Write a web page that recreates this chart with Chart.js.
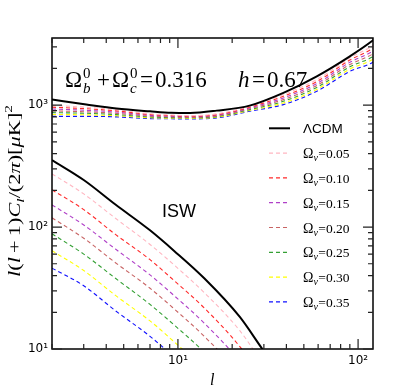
<!DOCTYPE html>
<html><head><meta charset="utf-8">
<script src="https://cdn.jsdelivr.net/npm/chart.js@4.4.0/dist/chart.umd.min.js"></script>
<style>html,body{margin:0;padding:0;background:#fff;}#wrap{width:415px;height:388px;}</style>
</head><body><div id="wrap"><canvas id="c" width="415" height="388"></canvas></div>
<script>
// ---- data ----
const seriesLabels = ['ΛCDM', '0.05', '0.10', '0.15', '0.20', '0.25', '0.30', '0.35'];
const seriesColors = ['#000000', '#ffb6c1', '#ff2a2a', '#b040c8', '#c86464', '#34a034', '#ffff00', '#1010ff'];

// total spectrum
const lTotal = [2, 3.1, 4.56, 7, 9.2, 11.7, 16.4, 25, 38.5, 59, 90, 119, 125];
const totLCDM = [1110, 1010, 936, 889, 866, 863, 901, 990, 1259, 1722, 2512, 3336, 3550];
const tot005 = [996, 959, 918, 850, 830, 820, 847, 978, 1219, 1618, 2440, 3030, 3200];
const tot010 = [962, 933, 897, 837, 820, 811, 836, 963, 1181, 1559, 2339, 2878, 3030];
const tot015 = [929, 906, 877, 824, 810, 803, 826, 948, 1145, 1502, 2242, 2732, 2880];
const tot020 = [897, 881, 856, 811, 800, 795, 815, 933, 1109, 1448, 2149, 2595, 2730];
const tot025 = [867, 857, 836, 799, 790, 787, 805, 918, 1074, 1395, 2059, 2464, 2590];
const tot030 = [838, 832, 818, 787, 781, 779, 795, 903, 1041, 1345, 1973, 2340, 2460];
const tot035 = [809, 809, 800, 775, 772, 771, 785, 889, 1009, 1298, 1890, 2217, 2330];

// ISW contribution
const lISW = [2, 3, 4.5, 7, 9.5, 14, 22, 30, 40];
const iswLCDM = [354, 243, 153, 94, 64, 38, 18.4, 9.6, 5.5];
const isw005 = [273, 187, 118, 72, 49, 29, 14.2, 7.4, 4.2];
const isw010 = [202, 139, 87, 54, 36.5, 21.7, 10.5, 5.5, 3.1];
const isw015 = [152, 104, 66, 40.5, 27.5, 16.3, 7.9, 4.1, 2.4];
const isw020 = [119, 81, 51, 31.5, 21.4, 12.7, 6.2, 3.2, 1.8];
const isw025 = [88, 60, 38, 23.2, 15.8, 9.4, 4.5, 2.4, 1.4];
const isw030 = [64, 44, 27.5, 17, 11.5, 6.8, 3.3, 1.7, 1.0];
const isw035 = [46, 33, 20.6, 12.7, 8.6, 5.1, 2.5, 1.3, 0.8];

const xTickValues = [10, 100];
const xTickLabels = ['10¹', '10²'];
const yTickValues = [10, 100, 1000];
const yTickLabels = ['10¹', '10²', '10³'];
const xRange = [2, 121];
const yRange = [10, 3550];

const totalSeries = [totLCDM, tot005, tot010, tot015, tot020, tot025, tot030, tot035];
const iswSeries = [iswLCDM, isw005, isw010, isw015, isw020, isw025, isw030, isw035];

function pts(xs, ys) { return xs.map((x, i) => ({ x: x, y: ys[i] })); }

const datasets = [];
[iswSeries, totalSeries].forEach((group, g) => {
  const xs = g === 0 ? lISW : lTotal;
  group.forEach((ys, i) => {
    datasets.push({
      label: seriesLabels[i] + (g === 0 ? ' ISW' : ' total'),
      data: pts(xs, ys),
      showLine: true,
      borderColor: seriesColors[i],
      borderWidth: i === 0 ? 2 : 1.1,
      borderDash: i === 0 ? [] : [4, 3],
      pointRadius: 0,
      cubicInterpolationMode: 'monotone',
      fill: false,
      order: i
    });
  });
});

function drawRich(ctx, pieces, x, y) {
  let cx = x;
  pieces.forEach(p => {
    ctx.font = p.font;
    ctx.fillText(p.t, cx + (p.dx || 0), y + (p.dy || 0));
    cx += ctx.measureText(p.t).width + (p.dx || 0) + (p.after || 0);
  });
  return cx - x;
}
function richWidth(ctx, pieces) {
  let w = 0;
  pieces.forEach(p => { ctx.font = p.font; w += ctx.measureText(p.t).width + (p.dx || 0) + (p.after || 0); });
  return w;
}

const decor = {
  id: 'decor',
  afterDraw(chart) {
    const ctx = chart.ctx;
    const a = chart.chartArea;
    const xs = chart.scales.x, ys = chart.scales.y;
    ctx.save();
    // frame
    ctx.strokeStyle = '#000';
    ctx.lineWidth = 1.5;
    ctx.setLineDash([]);
    ctx.strokeRect(a.left, a.top, a.right - a.left, a.bottom - a.top);
    // inward ticks
    ctx.lineWidth = 1.2;
    ctx.strokeStyle = '#222';
    const maj = 10, mnr = 5;
    for (let d = 1; d <= 1000; d *= 10) {
      for (let k = 1; k <= 9; k++) {
        const v = k * d;
        const len = k === 1 ? maj : mnr;
        if (v >= xRange[0] && v <= xRange[1]) {
          const px = xs.getPixelForValue(v);
          ctx.beginPath();
          ctx.moveTo(px, a.bottom); ctx.lineTo(px, a.bottom - len);
          ctx.moveTo(px, a.top); ctx.lineTo(px, a.top + len);
          ctx.stroke();
        }
        if (v >= yRange[0] && v <= yRange[1]) {
          const py = ys.getPixelForValue(v);
          ctx.beginPath();
          ctx.moveTo(a.left, py); ctx.lineTo(a.left + len, py);
          ctx.moveTo(a.right, py); ctx.lineTo(a.right - len, py);
          ctx.stroke();
        }
      }
    }
    ctx.fillStyle = '#000';
    ctx.textBaseline = 'alphabetic';
    ctx.textAlign = 'left';
    const serif = '"Liberation Serif", "DejaVu Serif", serif';
    // annotation
    const big = '23px ' + serif, small = '15px ' + serif, smallI = 'italic 15px ' + serif, bigI = 'italic 23px ' + serif;
    const by = 87;
    ctx.font = big; ctx.fillText('Ω', 65, by);
    ctx.font = small; ctx.fillText('0', 83, 78);
    ctx.font = smallI; ctx.fillText('b', 83, 93);
    ctx.font = big; ctx.fillText('+', 97, by);
    ctx.font = big; ctx.fillText('Ω', 112, by);
    ctx.font = small; ctx.fillText('0', 130, 78);
    ctx.font = smallI; ctx.fillText('c', 130, 93);
    ctx.font = big; ctx.fillText('=', 140, by);
    ctx.font = big; ctx.fillText('0.316', 155, by);
    ctx.font = bigI; ctx.fillText('h', 238, by);
    ctx.font = big; ctx.fillText('=', 252, by);
    ctx.font = big; ctx.fillText('0.67', 267, by);
    // ISW
    ctx.font = '18px "Liberation Sans", Arial, sans-serif';
    ctx.fillText('ISW', 162, 217);
    // legend
    const ly0 = 128.3, ldy = 24.8;
    for (let i = 0; i < seriesLabels.length; i++) {
      const ly = ly0 + i * ldy;
      ctx.beginPath();
      ctx.strokeStyle = seriesColors[i];
      ctx.lineWidth = i === 0 ? 2 : 1.2;
      ctx.setLineDash(i === 0 ? [] : [4, 3]);
      ctx.moveTo(269, ly); ctx.lineTo(290, ly);
      ctx.stroke();
      ctx.setLineDash([]);
      ctx.fillStyle = '#000';
      if (i === 0) {
        ctx.font = '13.5px "Liberation Sans", Arial, sans-serif';
        ctx.fillText(seriesLabels[0], 303, ly + 5);
      } else {
        drawRich(ctx, [
          { t: 'Ω', font: '14px ' + serif },
          { t: 'ν', font: 'italic 10px ' + serif, dy: 3, after: 0.5 },
          { t: '=' + seriesLabels[i], font: '13.5px ' + serif }
        ], 303, ly + 5);
      }
    }
    // x title
    ctx.font = 'italic 16px ' + serif;
    ctx.fillText('l', 210, 385);
    // y title (rotated)
    const tf = 'italic 16px ' + serif, nf = '16px ' + serif, sfI = 'italic 11px ' + serif, sf = '11px ' + serif;
    const yt = [
      { t: 'l', font: tf }, { t: '(', font: nf }, { t: 'l', font: tf, after: 3 },
      { t: '+', font: nf, after: 3 }, { t: '1)', font: nf }, { t: 'C', font: tf },
      { t: 'l', font: sfI, dy: 4 }, { t: '/(2', font: nf }, { t: 'π', font: tf },
      { t: ')[', font: nf }, { t: 'μ', font: tf }, { t: 'K]', font: nf },
      { t: '2', font: sf, dy: -8 }
    ];
    const w = richWidth(ctx, yt);
    const target = 172;
    ctx.translate(20, 191);
    ctx.rotate(-Math.PI / 2);
    ctx.scale(target / w, 1);
    drawRich(ctx, yt, -w / 2, 0);
    ctx.restore();
  }
};

new Chart(document.getElementById('c'), {
  type: 'scatter',
  data: { datasets: datasets },
  options: {
    responsive: false,
    animation: false,
    layout: { padding: { left: 0, top: 38, right: 42, bottom: 0 } },
    plugins: { legend: { display: false }, tooltip: { enabled: false } },
    scales: {
      x: {
        type: 'logarithmic', min: xRange[0], max: xRange[1],
        afterBuildTicks: s => { s.ticks = xTickValues.map(v => ({ value: v })); },
        afterFit: s => { s.height = 39; },
        grid: { display: false, drawTicks: false },
        border: { display: false },
        ticks: {
          autoSkip: false, maxRotation: 0, padding: 5, color: '#000',
          font: { family: '"DejaVu Sans", sans-serif', size: 12 },
          callback: (v, i) => xTickLabels[i]
        }
      },
      y: {
        type: 'logarithmic', min: yRange[0], max: yRange[1],
        afterBuildTicks: s => { s.ticks = yTickValues.map(v => ({ value: v })); },
        afterFit: s => { s.width = 52; },
        grid: { display: false, drawTicks: false },
        border: { display: false },
        ticks: {
          autoSkip: false, padding: 4, color: '#000',
          font: { family: '"DejaVu Sans", sans-serif', size: 12 },
          callback: (v, i) => yTickLabels[i]
        }
      }
    }
  },
  plugins: [decor]
});
</script>
</body></html>
